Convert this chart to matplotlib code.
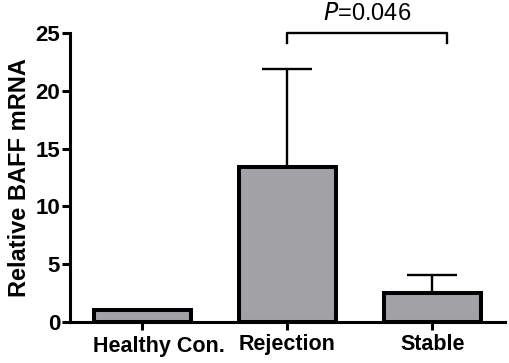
import matplotlib
matplotlib.use("Agg")
import matplotlib.pyplot as plt

groups = ["Healthy Con.", "Rejection", "Stable"]
means = [1.0, 13.4, 2.55]
errors = [0.0, 8.5, 1.5]
p_text = "0.046"

plt.rcParams['font.family'] = ['Liberation Sans', 'DejaVu Sans']

fig = plt.figure(figsize=(5.1, 3.63), dpi=100)
ax = fig.add_axes([0.137, 0.113, 0.853, 0.796])

x = list(range(len(groups)))
ax.bar(x, means, width=0.67, color="#a2a2a6", edgecolor="black", linewidth=2.9, zorder=2)
ax.errorbar(x[1:], means[1:], yerr=[[0, 0], errors[1:]], fmt="none", ecolor="black",
            elinewidth=1.7, capsize=18, capthick=1.7, zorder=1)

ax.set_xlim(-0.5, 2.5)
ax.set_ylim(0, 25)
ax.set_yticks([0, 5, 10, 15, 20, 25])
ax.set_xticks(x)
# first label sits a bit right of its tick in the original, so draw it by hand
ax.set_xticklabels([""] + groups[1:], fontsize=15.5, fontweight="bold")
ax.annotate(groups[0], xy=(x[0], 0), xycoords=("data", "axes fraction"),
            xytext=(12, -10.1), textcoords="offset points", ha="center", va="top",
            fontsize=15.5, fontweight="bold")
for lab in ax.get_yticklabels():
    lab.set_fontsize(16)
    lab.set_fontweight("bold")
ax.set_ylabel("Relative BAFF mRNA", fontsize=17, fontweight="bold", labelpad=3)

for s in ["top", "right"]:
    ax.spines[s].set_visible(False)
for s in ["left", "bottom"]:
    ax.spines[s].set_linewidth(2.2)
ax.tick_params(axis="both", width=2.2, length=6, direction="out")
ax.tick_params(axis="x", pad=3)
ax.tick_params(axis="y", pad=1)

# significance bracket
bx1, bx2, by, bh = 1.0, 2.1, 25.0, 0.9
ax.plot([bx1, bx1, bx2, bx2], [by - bh, by, by, by - bh], color="black", lw=1.7,
        clip_on=False)
ax.text((bx1 + bx2) / 2, by + 0.7, r"$\it{P}$=" + p_text, ha="center", va="bottom",
        fontsize=17, clip_on=False)

plt.savefig("out.png", dpi=100)
